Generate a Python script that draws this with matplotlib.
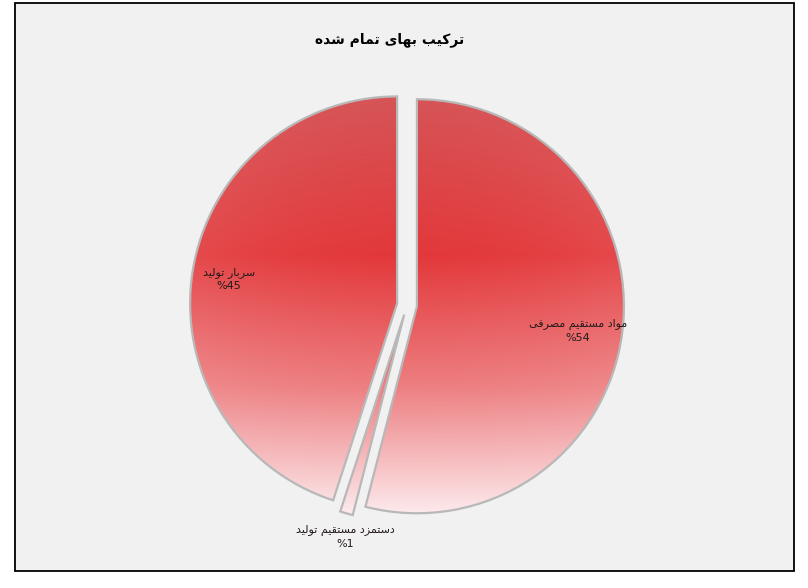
import numpy as np
import matplotlib
matplotlib.use("Agg")
import matplotlib.pyplot as plt
from matplotlib.patches import Rectangle

# ---------------- data ----------------
title = "ترکیب بهای تمام شده"
categories = ["مواد مستقیم مصرفی", "دستمزد مستقیم تولید", "سربار تولید"]
values = [54, 1, 45]
pct_labels = ["%54", "%1", "%45"]

# ---------------- minimal Arabic/Persian shaping ----------------
FORMS = {
    '\u0627': ('\uFE8D', '\uFE8E', None, None),
    '\u0628': ('\uFE8F', '\uFE90', '\uFE91', '\uFE92'),
    '\u062A': ('\uFE95', '\uFE96', '\uFE97', '\uFE98'),
    '\u062F': ('\uFEA9', '\uFEAA', None, None),
    '\u0631': ('\uFEAD', '\uFEAE', None, None),
    '\u0632': ('\uFEAF', '\uFEB0', None, None),
    '\u0633': ('\uFEB1', '\uFEB2', '\uFEB3', '\uFEB4'),
    '\u0634': ('\uFEB5', '\uFEB6', '\uFEB7', '\uFEB8'),
    '\u0635': ('\uFEB9', '\uFEBA', '\uFEBB', '\uFEBC'),
    '\u0641': ('\uFED1', '\uFED2', '\uFED3', '\uFED4'),
    '\u0642': ('\uFED5', '\uFED6', '\uFED7', '\uFED8'),
    '\u0644': ('\uFEDD', '\uFEDE', '\uFEDF', '\uFEE0'),
    '\u0645': ('\uFEE1', '\uFEE2', '\uFEE3', '\uFEE4'),
    '\u0647': ('\uFEE9', '\uFEEA', '\uFEEB', '\uFEEC'),
    '\u0648': ('\uFEED', '\uFEEE', None, None),
    '\u06A9': ('\uFB8E', '\uFB8F', '\uFB90', '\uFB91'),
    '\u06CC': ('\uFBFC', '\uFBFD', '\uFBFE', '\uFBFF'),
}


def shape(s):
    out = []
    n = len(s)
    for i, c in enumerate(s):
        if c not in FORMS:
            out.append(c)
            continue
        f = FORMS[c]
        prev_joins = i > 0 and s[i - 1] in FORMS and FORMS[s[i - 1]][2] is not None
        next_joins = (i < n - 1 and s[i + 1] in FORMS and f[2] is not None)
        if prev_joins and next_joins:
            g = f[3]
        elif prev_joins:
            g = f[1]
        elif next_joins:
            g = f[2]
        else:
            g = f[0]
        out.append(g)
    return "".join(reversed(out))


# ---------------- figure ----------------
W, H = 808, 588
fig = plt.figure(figsize=(W / 100, H / 100), dpi=100)
fig.patch.set_facecolor("white")
ax = fig.add_axes([0, 0, 1, 1])
ax.set_xlim(0, W)
ax.set_ylim(0, H)
ax.set_aspect("equal")
ax.axis("off")

# chart frame
ax.add_patch(Rectangle((15, H - 571), 779, 568, facecolor="#f1f1f1",
                       edgecolor="black", linewidth=1.3, zorder=0))

cx, cy, r = 407, H - 305, 207
ex = 10.0  # explode offset (data units = pixels here)
wedges, _ = ax.pie(values, startangle=90, counterclock=False,
                   radius=r, center=(cx, cy), explode=[ex, ex, ex],
                   colors=["none"] * 3,
                   wedgeprops=dict(edgecolor="#b8b8b8", linewidth=1.6),
                   frame=True)
ax.set_xlim(0, W)
ax.set_ylim(0, H)
ax.axis("off")

# gradient fill
ny, nx = 460, 460
x0, x1 = cx - r - 20, cx + r + 20
y0, y1 = cy - r - 20, cy + r + 20
xs = np.linspace(x0, x1, nx)
ys = np.linspace(y1, y0, ny)
X, Y = np.meshgrid(xs, ys)
v = np.clip((cy + r - Y) / (2 * r), 0, 1)  # 0 top -> 1 bottom
stops = np.array([0.0, 0.38, 0.7, 1.0])
cols = np.array([[0.84, 0.33, 0.34],
                 [0.89, 0.22, 0.23],
                 [0.93, 0.50, 0.51],
                 [0.99, 0.91, 0.92]])
img = np.zeros((ny, nx, 3))
for k in range(3):
    img[..., k] = np.interp(v, stops, cols[:, k])
d = np.clip(np.abs(X - cx) / r, 0, 1)
blend = 0.08 * d ** 2
img = img + (1 - img) * blend[..., None]

for w in wedges:
    im = ax.imshow(img, extent=(x0, x1, y0, y1), origin="upper",
                   interpolation="bilinear", zorder=1)
    im.set_clip_path(w)
    w.set_zorder(2)

ax.set_xlim(0, W)
ax.set_ylim(0, H)

# labels
lab_pos = [(578, H - 331), (345, H - 537), (229, H - 279)]
for cat, pct, (lx, ly) in zip(categories, pct_labels, lab_pos):
    ax.text(lx, ly, shape(cat) + "\n" + pct, ha="center", va="center",
            fontsize=8, color="#231a1a", family="DejaVu Sans",
            linespacing=1.45, zorder=5)

ax.text(390, H - 40, shape(title), ha="center", va="center",
        fontsize=10, fontweight="bold", color="black", family="DejaVu Sans",
        zorder=5)

fig.savefig("out.png", dpi=100, facecolor="white")
